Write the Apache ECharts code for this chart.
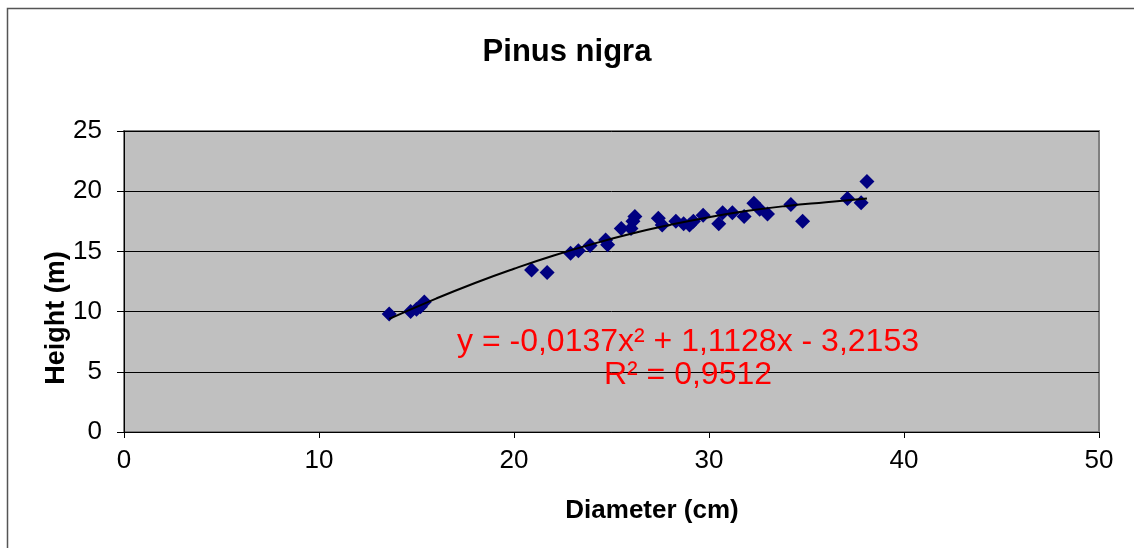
<!DOCTYPE html>
<html>
<head>
<meta charset="utf-8">
<script src="https://cdn.jsdelivr.net/npm/echarts@6/dist/echarts.min.js"></script>
<style>html,body{margin:0;padding:0;background:#fff;}#c{width:1134px;height:548px;}</style>
</head>
<body>
<div id="c"></div>
<script>
const titleText = 'Pinus nigra';
const xAxisTitle = 'Diameter (cm)';
const yAxisTitle = 'Height (m)';
const equationText = 'y = -0,0137x² + 1,1128x - 3,2153';
const r2Text = 'R² = 0,9512';

const diameters = [13.6, 14.7, 15.0, 15.2, 15.4, 20.9, 21.7, 22.9, 23.3, 23.9, 24.7, 24.8, 25.5, 26.0, 26.1, 26.2,
  27.4, 27.6, 28.3, 28.7, 29.0, 29.2, 29.7, 30.5, 30.7, 31.2, 31.8, 32.3, 32.6, 33.0, 34.2, 34.8, 37.1, 37.8, 38.1];
const heights = [9.8, 10.0, 10.2, 10.4, 10.8, 13.45, 13.25, 14.85, 15.05, 15.5, 15.95, 15.55, 16.9, 16.9, 17.5, 17.9,
  17.75, 17.2, 17.5, 17.3, 17.2, 17.5, 18.0, 17.3, 18.2, 18.2, 17.9, 19.0, 18.5, 18.1, 18.9, 17.5, 19.4, 19.05, 20.8];

// trendline points as drawn in the picture
const trendX = [13.6, 16, 18, 20, 22, 24, 26, 28, 30, 32, 34, 36, 38.1];
const trendY = [9.39, 11.08, 12.38, 13.56, 14.64, 15.60, 16.46, 17.20, 17.84, 18.37, 18.78, 19.09, 19.40];

const xTicks = [0, 10, 20, 30, 40, 50];
const yTicks = [0, 5, 10, 15, 20, 25];

const FONT = 'Liberation Sans, Arial, sans-serif';
const chart = echarts.init(document.getElementById('c'), null, {renderer: 'canvas'});
const grid = {left: 124, top: 131, right: 35, bottom: 116};

chart.setOption({
  animation: false,
  backgroundColor: '#ffffff',
  grid: Object.assign({show: true, backgroundColor: '#C0C0C0', borderColor: '#808080', borderWidth: 2}, grid),
  xAxis: {
    type: 'value', min: xTicks[0], max: xTicks[xTicks.length - 1], interval: 10,
    axisLine: {show: true, onZero: false, lineStyle: {color: '#000', width: 1}},
    axisTick: {show: true, length: 6, lineStyle: {color: '#000'}},
    axisLabel: {fontFamily: FONT, fontSize: 26, color: '#000', margin: 16},
    splitLine: {show: false}
  },
  yAxis: {
    type: 'value', min: yTicks[0], max: yTicks[yTicks.length - 1], interval: 5,
    axisLine: {show: true, onZero: false, lineStyle: {color: '#000', width: 1}},
    axisTick: {show: true, length: 7, lineStyle: {color: '#000'}},
    axisLabel: {fontFamily: FONT, fontSize: 26, color: '#000', margin: 22},
    splitLine: {show: true, lineStyle: {color: '#000', width: 1}}
  },
  series: [
    {
      type: 'line', data: trendX.map((x, i) => [x, trendY[i]]), smooth: true, showSymbol: false,
      lineStyle: {color: '#000', width: 2}, z: 3, silent: true
    },
    {
      type: 'scatter', data: diameters.map((d, i) => [d, heights[i]]),
      symbol: 'diamond', symbolSize: 15, itemStyle: {color: '#000080', opacity: 1}, z: 2
    }
  ],
  graphic: [
    {type: 'rect', shape: {x: 7.5, y: 8.5, width: 1300, height: 700}, style: {fill: 'none', stroke: '#555', lineWidth: 1.5}, z: -10, silent: true},
    {type: 'text', x: 567, y: 52, style: {text: titleText, font: 'bold 31px ' + FONT, fill: '#000', textAlign: 'center', textVerticalAlign: 'middle'}},
    {type: 'text', x: 652, y: 511, style: {text: xAxisTitle, font: 'bold 26px ' + FONT, fill: '#000', textAlign: 'center', textVerticalAlign: 'middle'}},
    {type: 'text', x: 57, y: 318, rotation: Math.PI / 2, style: {text: yAxisTitle, font: 'bold 27px ' + FONT, fill: '#000', textAlign: 'center', textVerticalAlign: 'middle'}},
    {type: 'text', x: 688, y: 342, z: 10, style: {text: equationText, font: '32px ' + FONT, fill: '#FF0000', textAlign: 'center', textVerticalAlign: 'middle'}},
    {type: 'text', x: 688, y: 375, z: 10, style: {text: r2Text, font: '32px ' + FONT, fill: '#FF0000', textAlign: 'center', textVerticalAlign: 'middle'}}
  ]
});
</script>
</body>
</html>
